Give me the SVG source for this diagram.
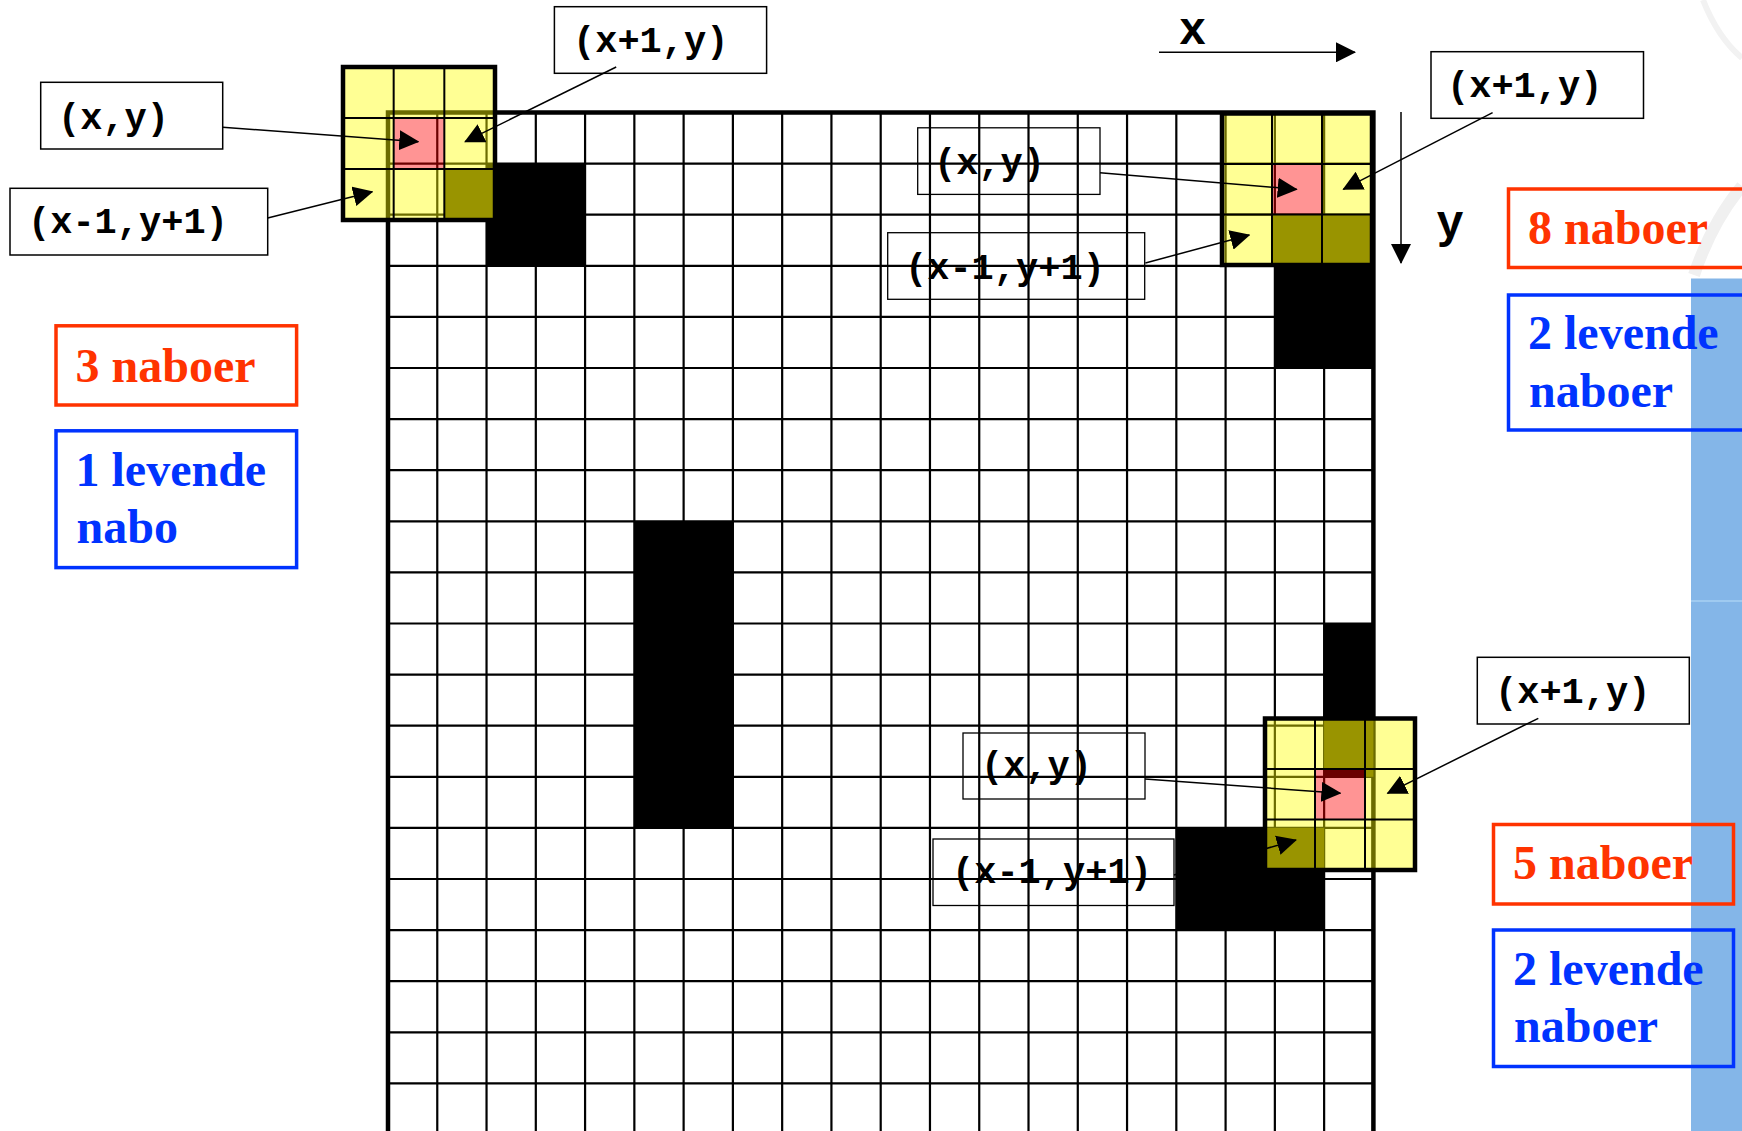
<svg xmlns="http://www.w3.org/2000/svg" width="1742" height="1131" viewBox="0 0 1742 1131">
<style>
.gl{stroke:#000;stroke-width:2.2;fill:none}
.gb{stroke:#000;stroke-width:4.5;fill:none}
.blk{fill:#000}
.olv{fill:#504800}
.cy{fill:#ffff00;fill-opacity:0.42}
.cp{fill:#ff0000;fill-opacity:0.42}
.ol{stroke:#000;stroke-width:2;fill:none}
.ob{stroke:#000;stroke-width:4.5;fill:none}
.lb{fill:#fff;stroke:#000;stroke-width:1.5}
.lt{fill:none;stroke:#000;stroke-width:1.3}
.mono{font-family:"Liberation Mono","Courier New",monospace;font-weight:bold;font-size:37px;fill:#000}
.ax{font-family:"Liberation Mono","Courier New",monospace;font-weight:bold;font-size:46px;fill:#000}
.rt{font-family:"Liberation Serif","Times New Roman",serif;font-weight:bold;font-size:48px;fill:#ff3300}
.bt{font-family:"Liberation Serif","Times New Roman",serif;font-weight:bold;font-size:48px;fill:#0033ff}
.rb{fill:none;stroke:#ff3300;stroke-width:3.5}
.bb{fill:none;stroke:#0033ff;stroke-width:3.5}
.conn{stroke:#000;stroke-width:1.5;fill:none;marker-end:url(#ah)}
</style>
<defs>
<marker id="ah" markerUnits="userSpaceOnUse" markerWidth="20" markerHeight="20" viewBox="0 0 20 20" refX="19" refY="10" orient="auto">
<path d="M0,0 L20,10 L0,20 z" fill="#000"/>
</marker>
</defs>
<rect x="0" y="0" width="1742" height="1131" fill="#fff"/>
<g id="background">
<rect x="1691" y="278.5" width="51" height="853" fill="#84b6e8"/>
<line x1="1691" y1="601" x2="1742" y2="601" stroke="#a9d1f3" stroke-width="1.5"/>
<path d="M1703,0 Q1718,38 1742,58" fill="none" stroke="#f2f2f2" stroke-width="6"/>
<path d="M1694,275 Q1712,222 1742,186" fill="none" stroke="#f0f0f0" stroke-width="12"/>
</g>
<g id="grid">
<rect x="388" y="112.5" width="985.4" height="1022" fill="#fff"/>
<rect class="blk" x="486.54" y="163.6" width="98.54" height="102.2"/>
<rect class="blk" x="1274.86" y="265.8" width="98.54" height="102.2"/>
<rect class="blk" x="634.35" y="521.3" width="98.54" height="306.6"/>
<rect class="blk" x="1324.13" y="623.5" width="49.27" height="153.3"/>
<rect class="blk" x="1176.32" y="827.9" width="147.81" height="102.2"/>
<path class="gl" d="M437.27,112.5V1131M486.54,112.5V1131M535.81,112.5V1131M585.08,112.5V1131M634.35,112.5V1131M683.62,112.5V1131M732.89,112.5V1131M782.16,112.5V1131M831.43,112.5V1131M880.7,112.5V1131M929.97,112.5V1131M979.24,112.5V1131M1028.51,112.5V1131M1077.78,112.5V1131M1127.05,112.5V1131M1176.32,112.5V1131M1225.59,112.5V1131M1274.86,112.5V1131M1324.13,112.5V1131"/>
<path class="gl" d="M388,163.6H1373.4M388,214.7H1373.4M388,265.8H1373.4M388,316.9H1373.4M388,368H1373.4M388,419.1H1373.4M388,470.2H1373.4M388,521.3H1373.4M388,572.4H1373.4M388,623.5H1373.4M388,674.6H1373.4M388,725.7H1373.4M388,776.8H1373.4M388,827.9H1373.4M388,879H1373.4M388,930.1H1373.4M388,981.2H1373.4M388,1032.3H1373.4M388,1083.4H1373.4"/>
<rect class="gb" x="388" y="112.5" width="985.4" height="1022"/>
</g>
<g id="overlay-tl">
<rect class="olv" x="444.33" y="169" width="50.67" height="51"/>
<rect class="cy" x="343" y="67" width="50.67" height="51"/>
<rect class="cy" x="393.67" y="67" width="50.66" height="51"/>
<rect class="cy" x="444.33" y="67" width="50.67" height="51"/>
<rect class="cy" x="343" y="118" width="50.67" height="51"/>
<rect class="cy" x="444.33" y="118" width="50.67" height="51"/>
<rect class="cy" x="343" y="169" width="50.67" height="51"/>
<rect class="cy" x="393.67" y="169" width="50.66" height="51"/>
<rect class="cy" x="444.33" y="169" width="50.67" height="51"/>
<rect class="cp" x="393.67" y="118" width="50.66" height="51"/>
<path class="ol" d="M393.67,67V220M444.33,67V220M343,118H495M343,169H495"/>
<rect class="ob" x="343" y="67" width="152" height="153"/>
</g>
<g id="overlay-tr">
<rect class="olv" x="1272" y="214.5" width="100" height="50.5"/>
<rect class="cy" x="1222" y="113.5" width="50" height="50.5"/>
<rect class="cy" x="1272" y="113.5" width="50" height="50.5"/>
<rect class="cy" x="1322" y="113.5" width="50" height="50.5"/>
<rect class="cy" x="1222" y="164" width="50" height="50.5"/>
<rect class="cy" x="1322" y="164" width="50" height="50.5"/>
<rect class="cy" x="1222" y="214.5" width="50" height="50.5"/>
<rect class="cy" x="1272" y="214.5" width="50" height="50.5"/>
<rect class="cy" x="1322" y="214.5" width="50" height="50.5"/>
<rect class="cp" x="1272" y="164" width="50" height="50.5"/>
<path class="ol" d="M1272,113.5V265M1322,113.5V265M1222,164H1372M1222,214.5H1372"/>
<rect class="ob" x="1222" y="113.5" width="150" height="151.5"/>
</g>
<g id="overlay-br">
<rect class="olv" x="1324.13" y="718.5" width="49.27" height="50.5"/>
<rect class="olv" x="1365" y="769" width="8.4" height="7.8"/>
<rect class="olv" x="1265" y="827.9" width="59.13" height="42.1"/>
<rect class="cy" x="1265" y="718.5" width="50" height="50.5"/>
<rect class="cy" x="1315" y="718.5" width="50" height="50.5"/>
<rect class="cy" x="1365" y="718.5" width="50" height="50.5"/>
<rect class="cy" x="1265" y="769" width="50" height="50.5"/>
<rect class="cy" x="1365" y="769" width="50" height="50.5"/>
<rect class="cy" x="1265" y="819.5" width="50" height="50.5"/>
<rect class="cy" x="1315" y="819.5" width="50" height="50.5"/>
<rect class="cy" x="1365" y="819.5" width="50" height="50.5"/>
<rect class="cp" x="1315" y="769" width="50" height="50.5"/>
<path class="ol" d="M1315,718.5V870M1365,718.5V870M1265,769H1415M1265,819.5H1415"/>
<rect class="ob" x="1265" y="718.5" width="150" height="151.5"/>
</g>
<g id="label-tl-xy">
<rect class="lb" x="40.7" y="82.3" width="182" height="66.7"/>
<text class="mono" x="58" y="128.5">(x,y)</text>
</g>
<g id="label-tl-xm1">
<rect class="lb" x="10" y="188.3" width="257.7" height="66.7"/>
<text class="mono" x="28" y="233">(x-1,y+1)</text>
</g>
<g id="label-tl-xp1">
<rect class="lb" x="554.4" y="6.7" width="212.2" height="66.6"/>
<text class="mono" x="573" y="52">(x+1,y)</text>
</g>
<g id="label-tr-xy">
<rect class="lt" x="917.7" y="127.8" width="182.3" height="66.6"/>
<text class="mono" x="934" y="173.5">(x,y)</text>
</g>
<g id="label-tr-xm1">
<rect class="lt" x="887.7" y="232.7" width="257" height="66.6"/>
<text class="mono" x="905" y="278.5">(x-1,y+1)</text>
</g>
<g id="label-tr-xp1">
<rect class="lb" x="1431" y="51.7" width="212.5" height="66.6"/>
<text class="mono" x="1447" y="97.2">(x+1,y)</text>
</g>
<g id="label-br-xy">
<rect class="lt" x="963" y="733" width="182" height="66"/>
<text class="mono" x="981" y="777">(x,y)</text>
</g>
<g id="label-br-xm1">
<rect class="lt" x="933" y="839" width="241" height="66.5"/>
<text class="mono" x="952" y="883">(x-1,y+1)</text>
</g>
<g id="label-br-xp1">
<rect class="lb" x="1477.3" y="657.3" width="212" height="66.7"/>
<text class="mono" x="1495" y="703">(x+1,y)</text>
</g>
<g id="axis-x">
<text class="ax" x="1192.5" y="44" text-anchor="middle">x</text>
</g>
<g id="axis-y">
<text class="ax" x="1450" y="237" text-anchor="middle">y</text>
</g>
<g id="connectors">
<path class="conn" d="M222.7,127.3 L418.3,141.7"/>
<path class="conn" d="M267.7,218 L372.3,191.7"/>
<path class="conn" d="M616.2,67 L465,141.7"/>
<path class="conn" d="M1100,172.7 L1296.7,189.3"/>
<path class="conn" d="M1145.4,263 L1249.3,235"/>
<path class="conn" d="M1492.6,112.7 L1343.3,189.3"/>
<path class="conn" d="M1145,779 L1340.4,793.3"/>
<path class="conn" d="M1174,875 L1296,840"/>
<path class="conn" d="M1538.3,718.3 L1387.5,793.3"/>
<path class="conn" d="M1159,52.3 L1355,52.3"/>
<path class="conn" d="M1401,112 L1401,263"/>
</g>
<g id="count-left-red">
<rect class="rb" x="56" y="325.8" width="240.6" height="79.2"/>
<text class="rt" x="75.5" y="381.7">3 naboer</text>
</g>
<g id="count-left-blue">
<rect class="bb" x="56" y="430.8" width="240.6" height="136.8"/>
<text class="bt" x="75.5" y="485.7">1 levende</text>
<text class="bt" x="76.5" y="543.3">nabo</text>
</g>
<g id="count-tr-red">
<rect class="rb" x="1508.5" y="189" width="300" height="78.5"/>
<text class="rt" x="1528" y="244">8 naboer</text>
</g>
<g id="count-tr-blue">
<rect class="bb" x="1508.5" y="295" width="300" height="135"/>
<text class="bt" x="1528" y="349">2 levende</text>
<text class="bt" x="1529" y="407.3">naboer</text>
</g>
<g id="count-br-red">
<rect class="rb" x="1493.5" y="824.5" width="240" height="79.5"/>
<text class="rt" x="1513" y="879.3">5 naboer</text>
</g>
<g id="count-br-blue">
<rect class="bb" x="1493.5" y="930" width="240" height="136.5"/>
<text class="bt" x="1513" y="985">2 levende</text>
<text class="bt" x="1514" y="1041.7">naboer</text>
</g>
</svg>
